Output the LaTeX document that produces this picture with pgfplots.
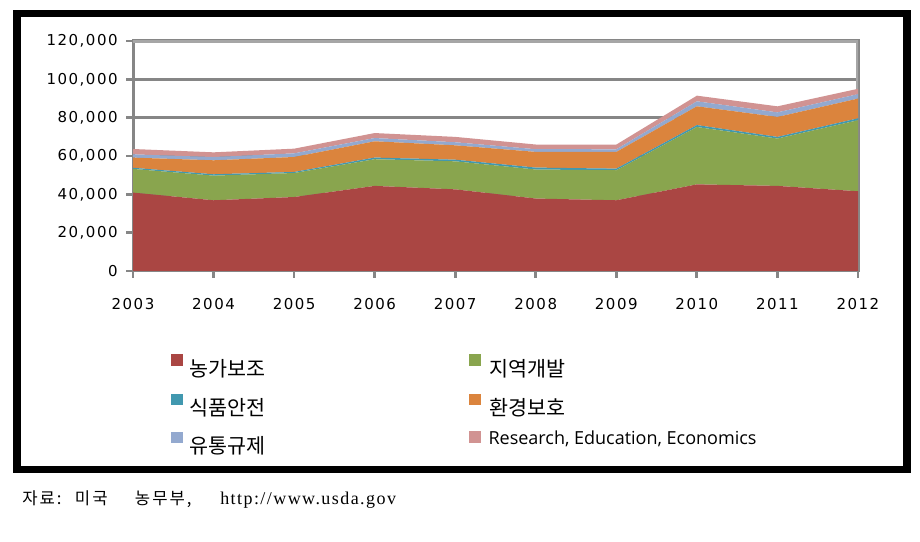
\documentclass[border=0pt]{standalone}
\usepackage{pgfplots}
\pgfplotsset{compat=1.18}
\usepackage{fontspec}
\setmainfont{DejaVu Sans}
\newfontfamily\tickfont[LetterSpace=10]{DejaVu Sans}
\newfontfamily\kofont{Noto Sans CJK KR}
\newfontfamily\enfont{Open Sans}
\newfontfamily\srckr[LetterSpace=12]{Noto Sans CJK KR}
\newfontfamily\urlfont[LetterSpace=8]{Liberation Serif}

\definecolor{cRed}{HTML}{AA4643}
\definecolor{cGreen}{HTML}{89A54E}
\definecolor{cTeal}{HTML}{4198AF}
\definecolor{cOrange}{HTML}{DB843D}
\definecolor{cBlue}{HTML}{93A9CF}
\definecolor{cPink}{HTML}{D19392}
\definecolor{cGrid}{HTML}{868686}
\definecolor{cBorder}{HTML}{A6A6A6}

\begin{document}
\begin{tikzpicture}
\useasboundingbox (0,0) rectangle (690pt,406.5pt);
\draw[line width=5.6pt] (12.75pt,54.375pt) rectangle (680.25pt,396.375pt);

\begin{axis}[
    at={(99.75pt,203.25pt)}, anchor=south west,
    scale only axis,
    width=543.75pt, height=172.5pt,
    xmin=2003, xmax=2012,
    ymin=0, ymax=120000,
    xtick={2003,2004,...,2012},
    xticklabels={2003,2004,2005,2006,2007,2008,2009,2010,2011,2012},
    ytick={0,20000,...,120000},
    yticklabels={0,{20,000},{40,000},{60,000},{80,000},{100,000},{120,000}},
    scaled y ticks=false,
    stack plots=y,
    xtick pos=bottom,
    ytick pos=left,
    axis line style={cGrid, line width=2.25pt},
    ymajorgrids,
    grid style={cGrid, line width=2pt},
    tick align=outside,
    major tick length=5pt,
    every tick/.style={cGrid, line width=2pt},
    tick label style={font=\tickfont\fontsize{11.25}{13}\selectfont},
    yticklabel style={xshift=-3pt},
    xticklabel style={yshift=-12pt},
]
\addplot[fill=cRed, draw=none] coordinates {
 (2003,40900) (2004,36900) (2005,38600) (2006,44400) (2007,42600)
 (2008,37800) (2009,36900) (2010,45200) (2011,44400) (2012,41600)} \closedcycle;
\addplot[fill=cGreen, draw=none] coordinates {
 (2003,12350) (2004,12860) (2005,12520) (2006,13920) (2007,14620)
 (2008,15140) (2009,15660) (2010,29930) (2011,24710) (2012,37060)} \closedcycle;
\addplot[fill=cTeal, draw=none] coordinates {
 (2003,600) (2004,700) (2005,550) (2006,850) (2007,850)
 (2008,1000) (2009,850) (2010,1000) (2011,850) (2012,1000)} \closedcycle;
\addplot[fill=cOrange, draw=none] coordinates {
 (2003,5300) (2004,7300) (2005,7800) (2006,8500) (2007,7500)
 (2008,8200) (2009,8700) (2010,9800) (2011,10400) (2012,10300)} \closedcycle;
\addplot[fill=cBlue, draw=none] coordinates {
 (2003,1700) (2004,1700) (2005,1900) (2006,1700) (2007,1600)
 (2008,1400) (2009,1400) (2010,2600) (2011,2400) (2012,2300)} \closedcycle;
\addplot[fill=cPink, draw=none] coordinates {
 (2003,2800) (2004,2450) (2005,2450) (2006,2600) (2007,2800)
 (2008,2450) (2009,2450) (2010,2950) (2011,3150) (2012,2800)} \closedcycle;
\draw[cBorder, line width=2.4pt] (rel axis cs:0,1) -- (rel axis cs:1,1) -- (rel axis cs:1,0);
\end{axis}

% legend
\fill[cRed]    (128.4pt,132.2pt) rectangle +(8.6pt,8.6pt);
\fill[cTeal]   (128.4pt,102.6pt) rectangle +(8.6pt,8.6pt);
\fill[cBlue]   (128.4pt,74.1pt) rectangle +(8.6pt,8.6pt);
\fill[cGreen]  (351.9pt,132.2pt) rectangle +(8.6pt,8.6pt);
\fill[cOrange] (351.9pt,102.6pt) rectangle +(8.6pt,8.6pt);
\fill[cPink]   (351.9pt,74.4pt) rectangle +(8.6pt,8.6pt);
\node[anchor=base west, inner sep=0pt, font=\kofont\fontsize{15.5}{18}\selectfont] at (141.75pt,123.75pt) {농가보조};
\node[anchor=base west, inner sep=0pt, font=\kofont\fontsize{15.5}{18}\selectfont] at (141.75pt,94.5pt) {식품안전};
\node[anchor=base west, inner sep=0pt, font=\kofont\fontsize{15.5}{18}\selectfont] at (141.75pt,66pt) {유통규제};
\node[anchor=base west, inner sep=0pt, font=\kofont\fontsize{15.5}{18}\selectfont] at (366.75pt,123.75pt) {지역개발};
\node[anchor=base west, inner sep=0pt, font=\kofont\fontsize{15.5}{18}\selectfont] at (366.75pt,94.5pt) {환경보호};
\node[anchor=base west, inner sep=0pt, font=\enfont\fontsize{13.5}{16}\selectfont] at (366.2pt,72.75pt) {Research, Education, Economics};

% source
\node[anchor=base west, inner sep=0pt, font=\srckr\fontsize{12.5}{14}\selectfont] at (16.5pt,28pt) {자료:};
\node[anchor=base west, inner sep=0pt, font=\srckr\fontsize{12.5}{14}\selectfont] at (56pt,28pt) {미국};
\node[anchor=base west, inner sep=0pt, font=\srckr\fontsize{12.5}{14}\selectfont] at (101pt,28pt) {농무부,};
\node[anchor=base west, inner sep=0pt, font=\urlfont\fontsize{13.5}{16}\selectfont] at (165pt,28pt) {http://www.usda.gov};
\end{tikzpicture}
\end{document}
